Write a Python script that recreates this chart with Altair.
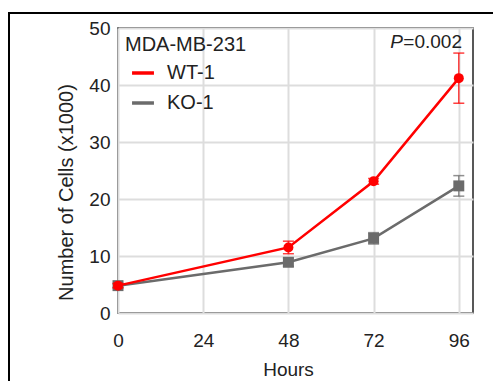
import altair as alt
import pandas as pd

hours = [0, 48, 72, 96]
series_names = ["WT-1", "KO-1"]
wt_mean = [4.8, 11.5, 23.1, 41.2]
wt_err = [0.4, 1.1, 0.5, 4.4]
ko_mean = [4.8, 8.9, 13.1, 22.3]
ko_err = [0.3, 0.7, 1.0, 1.8]
colors = ["#ff0000", "#6b6b6b"]
x_ticks = [0, 24, 48, 72, 96]
y_ticks = [0, 10, 20, 30, 40, 50]

rows = []
for name, means, errs in [("KO-1", ko_mean, ko_err), ("WT-1", wt_mean, wt_err)]:
    for h, m, e in zip(hours, means, errs):
        rows.append({"Hours": h, "Group": name, "mean": m, "lo": m - e, "hi": m + e})
df = pd.DataFrame(rows)

FONT = "Liberation Sans"
TXT = "#222222"

x = alt.X("Hours:Q", scale=alt.Scale(domain=[0, 100], nice=False),
          axis=alt.Axis(values=x_ticks, title="Hours", ticks=False, tickSize=0,
                        labelPadding=18, labelFontSize=19, titleFontSize=19,
                        labelFlush=False,
                        titleX=170, titleY=62, titleBaseline="alphabetic",
                        domain=False, grid=True))
y = alt.Y("mean:Q", scale=alt.Scale(domain=[0, 50], nice=False),
          axis=alt.Axis(values=y_ticks, title="Number of Cells (x1000)", ticks=False, tickSize=0,
                        labelPadding=8, labelFontSize=19, titleFontSize=20,
                        titleX=-42, titleY=164, titleBaseline="bottom",
                        domain=False, grid=True))
color_legend = alt.Legend(title="MDA-MB-231", orient="none", legendX=7, legendY=7,
                          padding=0, symbolType="stroke", symbolStrokeWidth=3.5,
                          symbolSize=480, symbolOffset=5, labelOffset=11,
                          symbolOpacity=1,
                          titleFontSize=20, titleFontWeight="normal", titleColor=TXT,
                          labelFontSize=20, labelColor=TXT, titlePadding=5,
                          rowPadding=7, titleFont=FONT, labelFont=FONT)
color_scale = alt.Scale(domain=series_names, range=colors)
col = alt.Color("Group:N", scale=color_scale, legend=color_legend)

def group_layers(name, shape, size):
    d = alt.Chart(df).transform_filter(alt.datum.Group == name)
    err = d.mark_rule(strokeWidth=1.5, opacity=0.75).encode(
        x=x, y=alt.Y("lo:Q", scale=alt.Scale(domain=[0, 50], nice=False)), y2="hi:Q", color=col)
    cap_lo = d.mark_tick(orient="horizontal", size=11, thickness=1.5, opacity=0.75).encode(
        x=x, y=alt.Y("lo:Q"), color=col)
    cap_hi = d.mark_tick(orient="horizontal", size=11, thickness=1.5, opacity=0.75).encode(
        x=x, y=alt.Y("hi:Q"), color=col)
    line = d.mark_line(strokeWidth=2.5).encode(x=x, y=y, color=col)
    pts = d.mark_point(shape=shape, filled=True, size=size, opacity=1).encode(x=x, y=y, color=col)
    return [err, cap_lo, cap_hi, line, pts]

layers = group_layers("KO-1", "square", 120) + group_layers("WT-1", "circle", 100)

ann = pd.DataFrame({"t": ["=0.002"]})
p_eq = alt.Chart(ann).mark_text(align="right", baseline="middle", fontSize=19, font=FONT, color=TXT).encode(
    x=alt.value(344), y=alt.value(14), text="t:N")
p_it = alt.Chart(ann).mark_text(align="right", baseline="middle", fontSize=19, font=FONT,
                                fontStyle="italic", color=TXT).encode(
    x=alt.value(285), y=alt.value(14), text=alt.value("P"))
frame = alt.Chart(ann).mark_rect(filled=False, stroke="#000000", strokeWidth=2).encode(
    x=alt.value(-109), x2=alt.value(600), y=alt.value(-15), y2=alt.value(600))

chart = alt.layer(frame, *layers, p_eq, p_it).properties(
    width=355, height=285,
    padding={"left": 110, "top": 20, "right": 20, "bottom": 68},
    autosize=alt.AutoSizeParams(type="none"),
).configure_view(stroke="#222222", strokeWidth=1.5).configure_axis(
    gridColor="#dddddd", gridWidth=2, labelColor=TXT, titleColor=TXT,
    labelFont=FONT, titleFont=FONT, titleFontWeight="normal",
)

chart.save("out.html", embed_options={"renderer": "svg", "actions": False})
